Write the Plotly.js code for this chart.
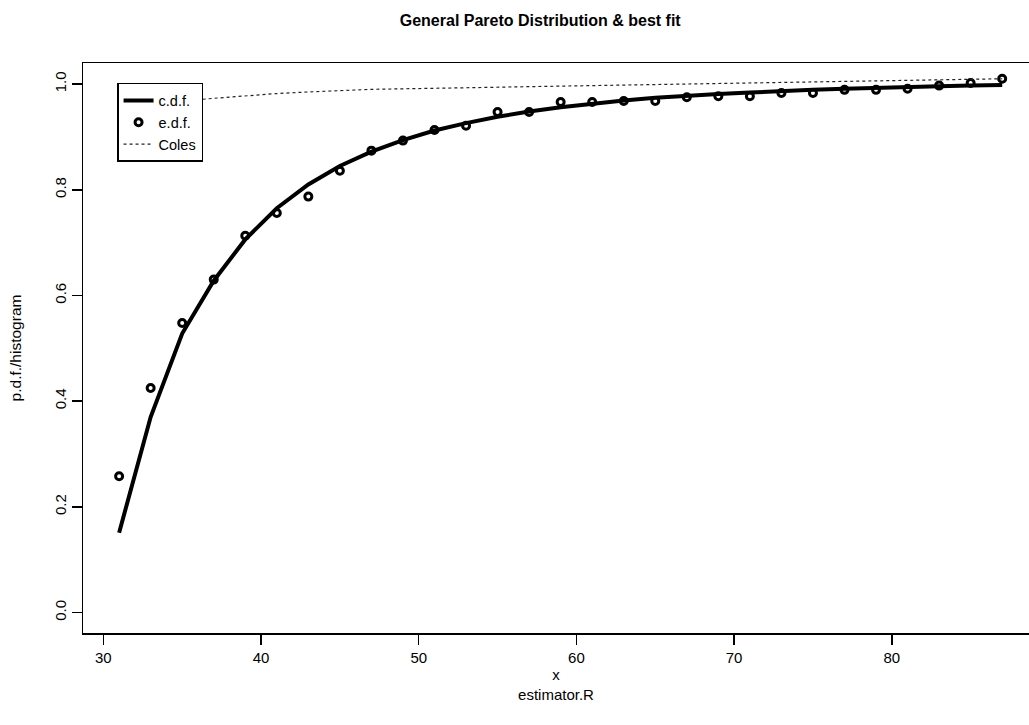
<!DOCTYPE html>
<html>
<head>
<meta charset="utf-8">
<script src="https://cdn.plot.ly/plotly-3.0.1.min.js"></script>
<style>html,body{margin:0;padding:0;background:#fff;}#plot{width:1029px;height:725px;}</style>
</head>
<body>
<div id="plot"></div>
<script>
// Data
const xValues = [31,33,35,37,39,41,43,45,47,49,51,53,55,57,59,61,63,65,67,69,71,73,75,77,79,81,83,85,87];
const cdfValues = [0.151,0.370,0.528,0.628,0.706,0.765,0.810,0.845,0.872,0.894,0.912,0.926,0.938,0.948,0.956,0.963,0.969,0.974,0.978,0.981,0.984,0.987,0.989,0.991,0.993,0.994,0.996,0.997,0.998];
const edfValues = [0.258,0.425,0.548,0.630,0.713,0.756,0.787,0.836,0.874,0.893,0.913,0.921,0.947,0.947,0.966,0.966,0.968,0.968,0.975,0.977,0.977,0.983,0.983,0.989,0.989,0.991,0.997,1.002,1.010];
const colesValues = [0.955,0.962,0.968,0.973,0.978,0.982,0.985,0.988,0.990,0.991,0.992,0.993,0.994,0.995,0.996,0.997,0.998,0.999,1.000,1.001,1.002,1.003,1.004,1.005,1.006,1.007,1.008,1.009,1.010];
const xTicks = [30,40,50,60,70,80];
const yTicks = [0,0.2,0.4,0.6,0.8,1.0];
const yTickLabels = ["0.0","0.2","0.4","0.6","0.8","1.0"];

const FONT = "Liberation Sans, Arial, Helvetica, sans-serif";

const traces = [
  {x: xValues, y: cdfValues, type: 'scatter', mode: 'lines', name: 'c.d.f.',
   line: {color: '#000', width: 4}},
  {x: xValues, y: edfValues, type: 'scatter', mode: 'markers', name: 'e.d.f.',
   marker: {color: '#000', symbol: 'circle-open', size: 7, line: {color: '#000', width: 3}}},
  {x: xValues, y: colesValues, type: 'scatter', mode: 'lines', name: 'Coles',
   line: {color: '#222', width: 1.2, dash: 'dot'}}
];

const layout = {
  width: 1029, height: 725,
  margin: {l: 83, r: 0, t: 63, b: 92, pad: 0},
  paper_bgcolor: '#fff', plot_bgcolor: '#fff',
  font: {family: FONT, color: '#000', size: 15},
  showlegend: true,
  title: {text: '<b>General Pareto Distribution & best fit</b>', font: {family: FONT, size: 16, color: '#000'},
          xref: 'container', yref: 'container', x: 0.525, y: 0.972, xanchor: 'center', yanchor: 'middle'},
  xaxis: {range: [28.71, 88.7], tickvals: xTicks, ticktext: xTicks.map(String),
          showgrid: false, zeroline: false, showline: true, linecolor: '#000', linewidth: 1.5, mirror: true,
          ticks: 'outside', ticklen: 10, tickwidth: 1.5, tickcolor: '#000',
          tickfont: {family: FONT, size: 15},
          title: {text: 'x<br>estimator.R', font: {family: FONT, size: 15}, standoff: 5}},
  yaxis: {range: [-0.0386, 1.0398], tickvals: yTicks, ticktext: yTickLabels,
          showgrid: false, zeroline: false, showline: true, linecolor: '#000', linewidth: 1.5,
          ticks: 'outside', ticklen: 10, tickwidth: 1.5, tickcolor: '#000', tickangle: -90,
          tickfont: {family: FONT, size: 15},
          title: {text: 'p.d.f./histogram', font: {family: FONT, size: 15.5}, standoff: 26}},
  legend: {x: 0.036, y: 0.965, xanchor: 'left', yanchor: 'top', bgcolor: '#fff',
           bordercolor: '#000', borderwidth: 1.5, font: {family: FONT, size: 14.5},
           itemwidth: 30, tracegroupgap: 0}
};

Plotly.newPlot('plot', traces, layout, {displayModeBar: false, staticPlot: true});
</script>
</body>
</html>
